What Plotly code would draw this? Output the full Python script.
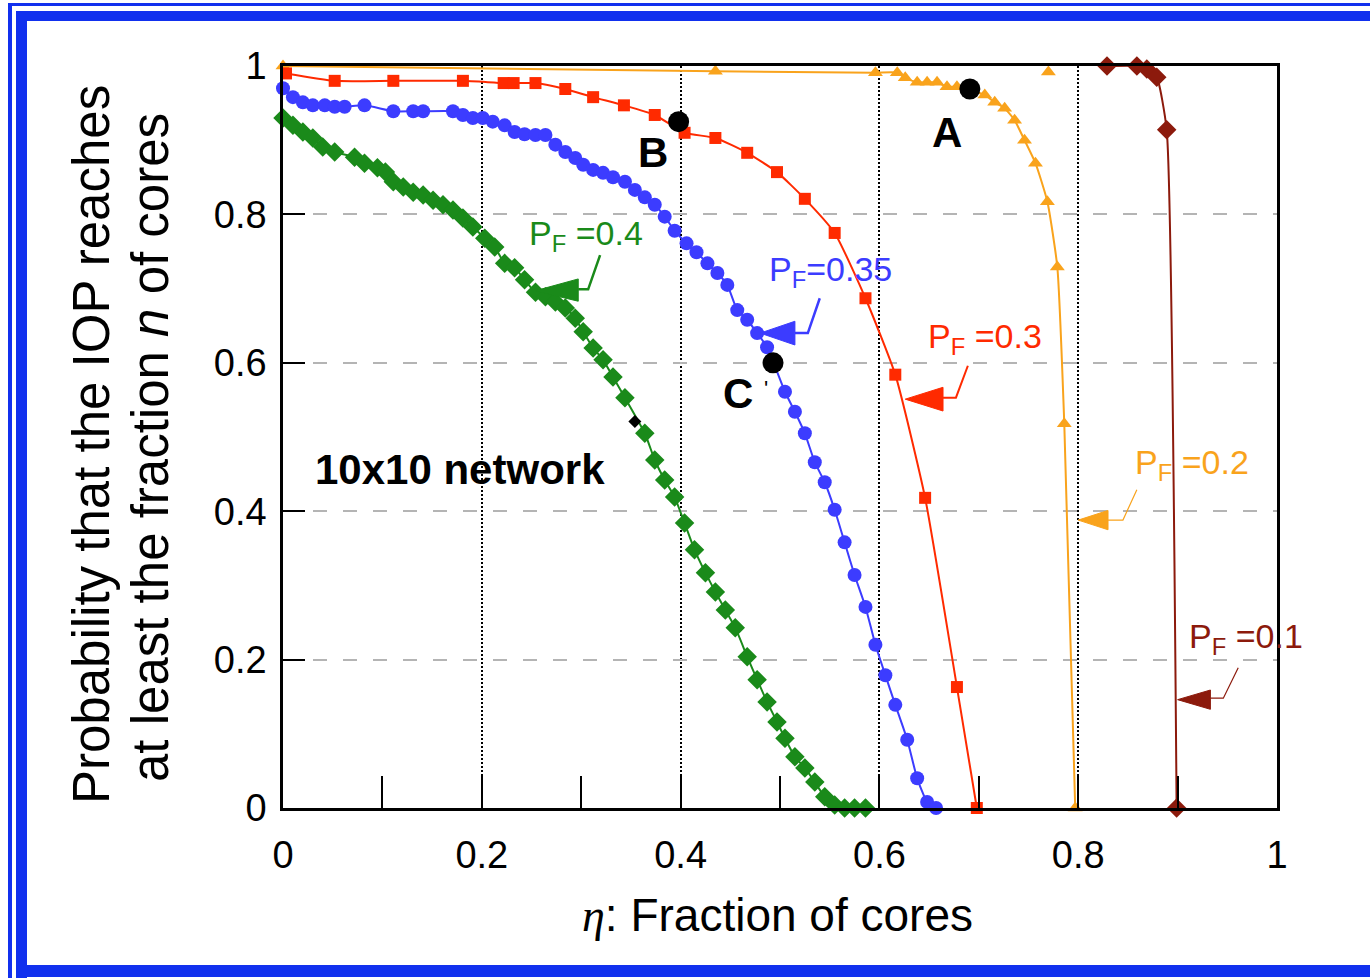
import plotly.graph_objects as go

# ---------------- data ----------------
pf01_x = [0.829, 0.859, 0.869, 0.879, 0.889, 0.899]
pf01_y = [1.000, 1.000, 0.996, 0.985, 0.914, 0.000]

pf02_x = [0.000, 0.435, 0.596, 0.618, 0.626, 0.638, 0.648, 0.658, 0.668, 0.678,
          0.706, 0.716, 0.726, 0.736, 0.746, 0.757, 0.769, 0.779, 0.786, 0.797]
pf02_y = [1.000, 0.993, 0.991, 0.991, 0.984, 0.978, 0.978, 0.978, 0.972, 0.972,
          0.961, 0.951, 0.943, 0.927, 0.900, 0.869, 0.817, 0.729, 0.518, 0.000]

pf03_x = [0.003, 0.052, 0.111, 0.181, 0.222, 0.232, 0.254, 0.284, 0.312, 0.343,
          0.374, 0.404, 0.435, 0.467, 0.497, 0.525, 0.555, 0.586, 0.616, 0.646,
          0.678, 0.698]
pf03_y = [0.990, 0.980, 0.980, 0.980, 0.977, 0.977, 0.977, 0.969, 0.958, 0.947,
          0.934, 0.910, 0.903, 0.883, 0.857, 0.821, 0.775, 0.687, 0.584, 0.418,
          0.163, 0.000]

pf035_x = [0.000, 0.010, 0.020, 0.030, 0.042, 0.052, 0.062, 0.082, 0.111, 0.131,
           0.141, 0.171, 0.181, 0.191, 0.201, 0.211, 0.223, 0.233, 0.243, 0.254,
           0.264, 0.274, 0.284, 0.294, 0.302, 0.312, 0.322, 0.332, 0.344, 0.354,
           0.364, 0.374, 0.384, 0.394, 0.406, 0.416, 0.427, 0.437, 0.447, 0.457,
           0.467, 0.477, 0.487, 0.505, 0.515, 0.525, 0.535, 0.545, 0.555, 0.565,
           0.575, 0.586, 0.596, 0.606, 0.616, 0.628, 0.638, 0.648, 0.657]
pf035_y = [0.970, 0.958, 0.951, 0.947, 0.947, 0.945, 0.945, 0.947, 0.939, 0.939,
           0.939, 0.939, 0.934, 0.930, 0.930, 0.925, 0.920, 0.911, 0.908, 0.907,
           0.907, 0.894, 0.884, 0.876, 0.867, 0.860, 0.856, 0.850, 0.844, 0.833,
           0.823, 0.813, 0.797, 0.778, 0.761, 0.749, 0.734, 0.721, 0.705, 0.671,
           0.658, 0.640, 0.621, 0.561, 0.534, 0.505, 0.466, 0.439, 0.402, 0.358,
           0.314, 0.271, 0.220, 0.179, 0.139, 0.092, 0.040, 0.008, 0.000]

pf04_x = [0.000, 0.010, 0.020, 0.030, 0.040, 0.052, 0.072, 0.082, 0.095, 0.103,
          0.111, 0.121, 0.131, 0.141, 0.151, 0.161, 0.171, 0.181, 0.191, 0.203,
          0.213, 0.223, 0.233, 0.243, 0.254, 0.264, 0.274, 0.284, 0.294, 0.302,
          0.312, 0.322, 0.332, 0.344, 0.364, 0.374, 0.384, 0.394, 0.404, 0.414,
          0.425, 0.435, 0.445, 0.455, 0.467, 0.477, 0.487, 0.497, 0.505, 0.515,
          0.525, 0.535, 0.545, 0.555, 0.565, 0.575, 0.586]
pf04_y = [0.930, 0.920, 0.911, 0.903, 0.891, 0.884, 0.877, 0.869, 0.863, 0.857,
          0.844, 0.837, 0.830, 0.826, 0.819, 0.813, 0.806, 0.795, 0.783, 0.768,
          0.756, 0.734, 0.728, 0.712, 0.695, 0.689, 0.682, 0.674, 0.660, 0.642,
          0.620, 0.604, 0.581, 0.553, 0.505, 0.469, 0.442, 0.419, 0.384, 0.348,
          0.317, 0.291, 0.267, 0.243, 0.204, 0.173, 0.143, 0.116, 0.094, 0.069,
          0.054, 0.035, 0.015, 0.004, 0.000, 0.000, 0.000]

black_pt_x = [0.354]
black_pt_y = [0.521]
stray_orange_x = [0.770]
stray_orange_y = [0.992]

marked_x = [0.691, 0.398, 0.493]
marked_y = [0.969, 0.925, 0.600]

x_ticks = [0, 0.2, 0.4, 0.6, 0.8, 1]
x_ticklabels = ["0", "0.2", "0.4", "0.6", "0.8", "1"]
y_ticks = [0, 0.2, 0.4, 0.6, 0.8, 1]
y_ticklabels = ["0", "0.2", "0.4", "0.6", "0.8", "1"]

# ---------------- styling ----------------
FONT = "Liberation Sans, Arial, Helvetica, sans-serif"
C_RED = "#ff2a00"
C_ORANGE = "#f9a31c"
C_MAROON = "#8c1a0c"
C_BLUE = "#3c3cff"
C_GREEN = "#1a8a1a"
C_FRAME = "#1130ee"

W, H = 1370, 978
L, R, T, B = 283, 93, 66, 170
PW, PH = W - L - R, H - T - B


def px(x):
    return (x - L) / PW


def py(y):
    return (H - B - y) / PH


fig = go.Figure()


def add_series(xs, ys, color, symbol, size):
    fig.add_trace(go.Scatter(
        x=xs, y=ys, mode="lines+markers",
        line=dict(color=color, width=2, shape="spline", smoothing=0.5),
        marker=dict(symbol=symbol, size=size, color=color),
        cliponaxis=False, showlegend=False, hoverinfo="skip"))


add_series(pf01_x, pf01_y, C_MAROON, "diamond", 15)
add_series(pf02_x, pf02_y, C_ORANGE, "triangle-up", 13)
add_series(pf03_x, pf03_y, C_RED, "square", 12)
add_series(pf035_x, pf035_y, C_BLUE, "circle", 14)
add_series(pf04_x, pf04_y, C_GREEN, "diamond", 15)

fig.add_trace(go.Scatter(x=stray_orange_x, y=stray_orange_y, mode="markers",
                         marker=dict(symbol="triangle-up", size=13, color=C_ORANGE),
                         cliponaxis=False, showlegend=False, hoverinfo="skip"))
fig.add_trace(go.Scatter(x=black_pt_x, y=black_pt_y, mode="markers",
                         marker=dict(symbol="diamond", size=10, color="black"),
                         cliponaxis=False, showlegend=False, hoverinfo="skip"))
fig.add_trace(go.Scatter(x=marked_x, y=marked_y, mode="markers",
                         marker=dict(symbol="circle", size=21, color="black"),
                         cliponaxis=False, showlegend=False, hoverinfo="skip"))

shapes = []
# callout pointers: bent line + filled arrow head (data coordinates)
callouts = [
    (C_GREEN, [(0.319, 0.745), (0.307, 0.699), (0.297, 0.699)],
     [(0.2535, 0.697), (0.297, 0.713), (0.297, 0.683)], 2.5),
    (C_BLUE, [(0.540, 0.687), (0.528, 0.640), (0.515, 0.640)],
     [(0.480, 0.640), (0.515, 0.656), (0.515, 0.624)], 2.5),
    (C_RED, [(0.689, 0.596), (0.677, 0.553), (0.664, 0.553)],
     [(0.626, 0.551), (0.664, 0.567), (0.664, 0.535)], 2.0),
    (C_ORANGE, [(0.859, 0.429), (0.845, 0.388), (0.830, 0.388)],
     [(0.800, 0.388), (0.830, 0.401), (0.830, 0.375)], 1.2),
    (C_MAROON, [(0.961, 0.189), (0.946, 0.148), (0.933, 0.148)],
     [(0.900, 0.146), (0.933, 0.159), (0.933, 0.133)], 1.2),
]
for color, line_pts, tri, lw in callouts:
    path = "M " + " L ".join(f"{a},{b}" for a, b in line_pts)
    shapes.append(dict(type="path", path=path, xref="x", yref="y",
                       line=dict(color=color, width=lw), layer="above"))
    tpath = "M " + " L ".join(f"{a},{b}" for a, b in tri) + " Z"
    shapes.append(dict(type="path", path=tpath, xref="x", yref="y",
                       fillcolor=color, line=dict(color=color, width=1), layer="above"))

# blue page frame
frame_rects = [
    (8, 3, 12, 978),      # thin outer left
    (8, 3, 1370, 6),      # thin outer top
    (16, 11, 27, 978),    # thick left
    (16, 11, 1370, 21),   # thick top
    (16, 965, 1370, 977), # thick bottom
]
for x0, y0, x1, y1 in frame_rects:
    shapes.append(dict(type="rect", xref="paper", yref="paper",
                       x0=px(x0), x1=px(x1), y0=py(y1), y1=py(y0),
                       fillcolor=C_FRAME, line=dict(width=0), layer="above"))

annotations = []


def ann(text, x, y, size, color="black", bold=False, xref="x", yref="y", angle=0):
    if bold:
        text = f"<b>{text}</b>"
    annotations.append(dict(text=text, x=x, y=y, xref=xref, yref=yref,
                            showarrow=False, textangle=angle,
                            font=dict(family=FONT, size=size, color=color),
                            xanchor="center", yanchor="middle"))


ann("P<sub>F</sub> =0.4", 0.305, 0.772, 34, C_GREEN)
ann("P<sub>F</sub>=0.35", 0.551, 0.723, 34, C_BLUE)
ann("P<sub>F</sub> =0.3", 0.706, 0.633, 34, C_RED)
ann("P<sub>F</sub> =0.2", 0.914, 0.463, 34, C_ORANGE)
ann("P<sub>F</sub> =0.1", 0.969, 0.228, 34, C_MAROON)

ann("A", 0.668, 0.910, 42, bold=True)
ann("B", 0.372, 0.884, 42, bold=True)
ann("C", 0.458, 0.559, 42, bold=True)
ann("'", 0.486, 0.566, 22)
ann("10x10 network", 0.178, 0.456, 42, bold=True)

# axis titles
ann("<span style='font-family:Liberation Serif, Times New Roman, serif'><i>η</i></span>: Fraction of cores",
    px(777), py(915), 46, xref="paper", yref="paper")
ann("Probability that the IOP reaches", px(91), py(445), 51,
    xref="paper", yref="paper", angle=-90)
ann("at least the fraction <i>n</i> of cores", px(150), py(448), 51,
    xref="paper", yref="paper", angle=-90)

fig.update_layout(
    width=W, height=H,
    margin=dict(l=L, r=R, t=T, b=B, pad=0),
    paper_bgcolor="white", plot_bgcolor="white",
    font=dict(family=FONT, color="black"),
    shapes=shapes, annotations=annotations,
    showlegend=False,
)
fig.update_xaxes(
    range=[0, 1], tickvals=x_ticks, ticktext=x_ticklabels,
    ticks="inside", ticklen=32, tickwidth=2, tickcolor="black",
    minor=dict(dtick=0.1, ticks="inside", ticklen=32, tickwidth=2,
               tickcolor="black", showgrid=False),
    showline=True, linecolor="black", linewidth=2.5, mirror=True,
    showgrid=True, gridcolor="black", gridwidth=2.2, griddash="2px,2px",
    zeroline=False, tickfont=dict(family=FONT, size=38, color="black"),
    ticklabelstandoff=12, fixedrange=True,
)
fig.update_yaxes(
    range=[0, 1], tickvals=y_ticks, ticktext=y_ticklabels,
    ticks="inside", ticklen=22, tickwidth=2, tickcolor="black",
    showline=True, linecolor="black", linewidth=2.5, mirror=True,
    showgrid=True, gridcolor="#b4b4b4", gridwidth=1.5, griddash="14px,16px",
    zeroline=False, tickfont=dict(family=FONT, size=38, color="black"),
    ticklabelstandoff=6, fixedrange=True,
)

fig.write_html("out.html", config={"displayModeBar": False},
               post_script="document.body.style.margin='0';document.body.style.overflow='hidden';")
